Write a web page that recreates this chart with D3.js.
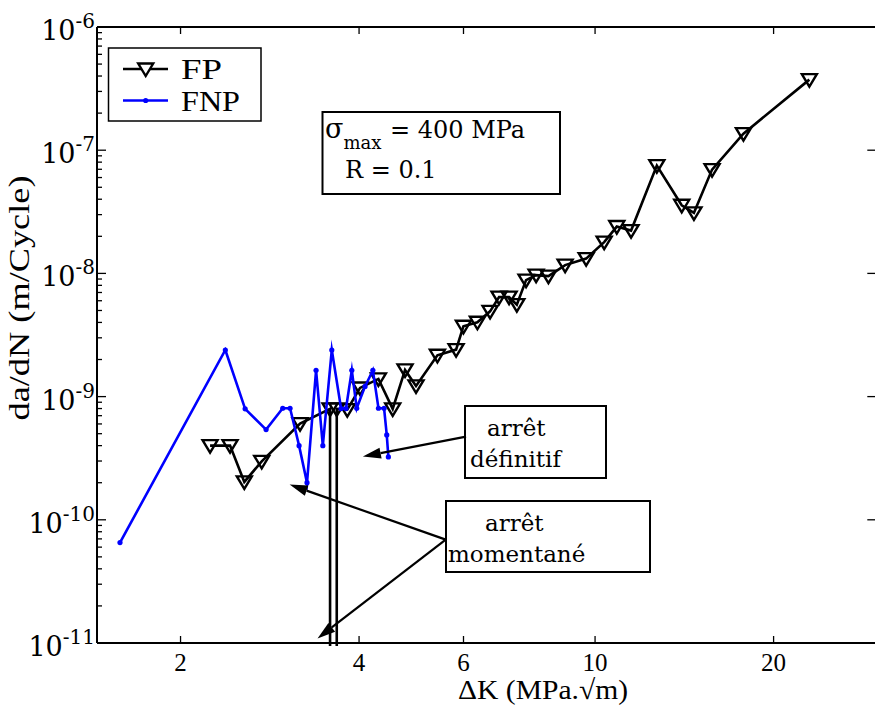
<!DOCTYPE html>
<html><head><meta charset="utf-8">
<script src="https://cdn.jsdelivr.net/npm/d3@7"></script>
<style>html,body{margin:0;padding:0;background:#fff;}svg{display:block;}</style>
</head><body>
<svg id="chart" width="875" height="711"></svg>
<script>
// ---- data ----
const fpDeltaK = [2.243, 2.424, 2.562, 2.741, 3.181, 3.574, 3.574, 3.668, 3.668, 3.821, 4.015, 4.312, 4.558, 4.782, 4.990, 5.422, 5.830, 5.998, 6.333, 6.652, 6.888, 7.162, 7.380, 7.650, 7.954, 8.344, 8.903, 9.660, 10.36, 10.88, 11.50, 12.71, 14.00, 14.68, 15.75, 17.79, 22.98];
const fpRate = [4.00e-10, 4.00e-10, 2.03e-10, 2.98e-10, 6.04e-10, 7.95e-10, 1e-12, 1e-12, 7.95e-10, 7.84e-10, 1.176e-9, 1.392e-9, 7.95e-10, 1.647e-9, 1.221e-9, 2.164e-9, 2.407e-9, 3.72e-9, 4.01e-9, 4.92e-9, 6.42e-9, 6.42e-9, 5.58e-9, 8.82e-9, 9.69e-9, 9.50e-9, 1.168e-8, 1.319e-8, 1.795e-8, 2.40e-8, 2.226e-8, 7.50e-8, 3.57e-8, 3.10e-8, 6.96e-8, 1.363e-7, 3.74e-7];
const fnpDeltaK = [1.581, 2.380, 2.570, 2.788, 2.974, 3.060, 3.169, 3.268, 3.385, 3.475, 3.598, 3.730, 3.802, 3.889, 3.964, 4.094, 4.220, 4.313, 4.408, 4.454, 4.482];
const fnpRate = [6.53e-11, 2.39e-9, 7.95e-10, 5.40e-10, 8.04e-10, 8.04e-10, 4.0e-10, 2.0e-10, 1.635e-9, 4.0e-10, 2.39e-9, 8.0e-10, 8.0e-10, 1.635e-9, 8.04e-10, 1.21e-9, 1.635e-9, 8.04e-10, 8.04e-10, 4.89e-10, 3.24e-10];
const xTickValues = [2, 4, 6, 10, 20];
const xTickLabels = ["2", "4", "6", "10", "20"];
const yDecadeExponents = [-11, -10, -9, -8, -7, -6];
const seriesNames = ["FP", "FNP"];
const xAxisTitle = "ΔK (MPa.√m)";
const yAxisTitle = "da/dN (m/Cycle)";
const conditionLines = ["= 400 MPa", "R = 0.1"];
const noteFinal = ["arrêt", "définitif"];
const noteTemp = ["arrêt", "momentané"];

// ---- layout ----
const L = 97, Rr = 876.3, T = 27, B = 643;
const svg = d3.select("#chart");
const x = d3.scaleLog().domain([1.446, 29.8]).range([L, Rr]);
const y = d3.scaleLog().domain([1e-11, 1e-6]).range([B, T]);
const SERIF = "'Liberation Serif', 'Times New Roman', serif";
const WIDE = "'DejaVu Serif', serif";

svg.append("defs").append("clipPath").attr("id", "plotclip")
  .append("rect").attr("x", L).attr("y", T).attr("width", Rr - L).attr("height", B - T + 3);

// frame
const frame = svg.append("g").attr("stroke", "#000").attr("stroke-width", 2).attr("fill", "none");
frame.append("line").attr("x1", L).attr("x2", L).attr("y1", T).attr("y2", B);
frame.append("line").attr("x1", L).attr("x2", Rr).attr("y1", T).attr("y2", T);
frame.append("line").attr("x1", L).attr("x2", Rr).attr("y1", B).attr("y2", B);
frame.append("line").attr("x1", Rr).attr("x2", Rr).attr("y1", T).attr("y2", B);

// x ticks (bottom + top, inward)
const xt = svg.append("g").attr("stroke", "#000").attr("stroke-width", 1.3);
xTickValues.forEach(v => {
  xt.append("line").attr("x1", x(v)).attr("x2", x(v)).attr("y1", B).attr("y2", B - 7);
  xt.append("line").attr("x1", x(v)).attr("x2", x(v)).attr("y1", T).attr("y2", T + 7);
});
svg.append("g").selectAll("text").data(xTickValues).join("text")
  .attr("x", d => x(d)).attr("y", 671)
  .attr("text-anchor", "middle").attr("font-family", SERIF).attr("font-size", 25)
  .text((d, i) => xTickLabels[i]);

// y ticks
const yt = svg.append("g").attr("stroke", "#000").attr("stroke-width", 1.3);
yDecadeExponents.forEach(e => {
  const v = Math.pow(10, e);
  yt.append("line").attr("x1", L).attr("x2", L + 9).attr("y1", y(v)).attr("y2", y(v));
  yt.append("line").attr("x1", Rr).attr("x2", Rr - 9).attr("y1", y(v)).attr("y2", y(v));
  if (e < -6) {
    for (let m = 2; m <= 9; m++) {
      const mv = m * v;
      yt.append("line").attr("x1", L).attr("x2", L + 5).attr("y1", y(mv)).attr("y2", y(mv));
    }
  }
});
const ylab = svg.append("g").selectAll("text").data(yDecadeExponents).join("text")
  .attr("x", 95).attr("y", d => y(Math.pow(10, d)) + 13)
  .attr("text-anchor", "end").attr("font-family", WIDE).attr("font-size", 27);
ylab.append("tspan").text("10");
ylab.append("tspan").attr("dy", -12).attr("font-size", 20).text(d => String(d));

// axis titles
svg.append("text").attr("x", 543).attr("y", 699).attr("text-anchor", "middle")
  .attr("font-family", SERIF).attr("font-size", 28)
  .attr("textLength", 170).attr("lengthAdjust", "spacingAndGlyphs").text(xAxisTitle);
svg.append("text").attr("transform", "translate(29,298) rotate(-90)").attr("text-anchor", "middle")
  .attr("font-family", SERIF).attr("font-size", 30)
  .attr("textLength", 245).attr("lengthAdjust", "spacingAndGlyphs").text(yAxisTitle);

// series
const plot = svg.append("g").attr("clip-path", "url(#plotclip)");
const fpData = fpDeltaK.map((k, i) => ({k, r: fpRate[i]}));
const fnpData = fnpDeltaK.map((k, i) => ({k, r: fnpRate[i]}));
const line = d3.line().x(d => x(d.k)).y(d => y(d.r));
const triPath = "M-7.5,-5.5L7.5,-5.5L0,7Z";

plot.append("path").datum(fpData).attr("d", line).attr("fill", "none")
  .attr("stroke", "#000").attr("stroke-width", 2.6).attr("stroke-linejoin", "miter").attr("stroke-miterlimit", 10);
plot.append("g").selectAll("path").data(fpData).join("path")
  .attr("transform", d => `translate(${x(d.k)},${y(d.r)})`).attr("d", triPath)
  .attr("fill", "none").attr("stroke", "#000").attr("stroke-width", 2.4);

plot.append("path").datum(fnpData).attr("d", line).attr("fill", "none")
  .attr("stroke", "#0000ff").attr("stroke-width", 2.6).attr("stroke-linejoin", "miter").attr("stroke-miterlimit", 10);
plot.append("g").selectAll("circle").data(fnpData).join("circle")
  .attr("cx", d => x(d.k)).attr("cy", d => y(d.r)).attr("r", 2.6).attr("fill", "#0000ff");

// legend
const lg = svg.append("g");
lg.append("rect").attr("x", 108.5).attr("y", 48).attr("width", 152.5).attr("height", 73)
  .attr("fill", "#fff").attr("stroke", "#000").attr("stroke-width", 1.5);
const legendWidths = [41, 59];
[0, 1].forEach(i => {
  const ly = 69 + i * 31.5;
  const col = i === 0 ? "#000" : "#0000ff";
  lg.append("line").attr("x1", 123).attr("x2", 168).attr("y1", ly).attr("y2", ly)
    .attr("stroke", col).attr("stroke-width", 2.6);
  if (i === 0) lg.append("path").attr("transform", `translate(145.7,${ly})`).attr("d", triPath)
    .attr("fill", "#fff").attr("stroke", "#000").attr("stroke-width", 2.4);
  else lg.append("circle").attr("cx", 145.7).attr("cy", ly).attr("r", 2.6).attr("fill", col);
  lg.append("text").attr("x", 181).attr("y", ly + 10).attr("font-family", SERIF)
    .attr("font-size", 29).attr("textLength", legendWidths[i]).attr("lengthAdjust", "spacingAndGlyphs")
    .text(seriesNames[i]);
});

// condition box
const cb = svg.append("g");
cb.append("rect").attr("x", 322.5).attr("y", 112).attr("width", 237.5).attr("height", 82)
  .attr("fill", "#fff").attr("stroke", "#000").attr("stroke-width", 2);
const t1 = cb.append("text").attr("x", 325).attr("y", 138).attr("font-family", WIDE).attr("font-size", 24);
t1.append("tspan").attr("font-size", 27).text("σ");
t1.append("tspan").attr("dy", 11).attr("font-size", 18).text("max");
t1.append("tspan").attr("x", 390).attr("dy", -11).text(conditionLines[0]);
cb.append("text").attr("x", 345).attr("y", 178).attr("font-family", WIDE).attr("font-size", 24).text(conditionLines[1]);

// annotation boxes
function noteBox(bx, by, bw, bh, lines, lx) {
  const g = svg.append("g");
  g.append("rect").attr("x", bx).attr("y", by).attr("width", bw).attr("height", bh)
    .attr("fill", "#fff").attr("stroke", "#000").attr("stroke-width", 2);
  lines.forEach((s, i) => g.append("text").attr("x", lx[i]).attr("y", by + 30 + i * 31)
    .attr("font-family", WIDE).attr("font-size", 23).text(s));
}
noteBox(465, 406, 141, 72, noteFinal, [487, 470]);
noteBox(446, 501, 204, 71, noteTemp, [485, 448]);

// arrows (in data coordinates)
function arrow(k1, r1, k2, r2) {
  const x1 = x(k1), y1 = y(r1), x2 = x(k2), y2 = y(r2);
  const a = Math.atan2(y2 - y1, x2 - x1), len = 18, hw = 5.5;
  const bx = x2 - len * Math.cos(a), by = y2 - len * Math.sin(a);
  svg.append("line").attr("x1", x1).attr("y1", y1).attr("x2", bx).attr("y2", by)
    .attr("stroke", "#000").attr("stroke-width", 2.2);
  const p = [[x2, y2], [bx + hw * Math.sin(a), by - hw * Math.cos(a)], [bx - hw * Math.sin(a), by + hw * Math.cos(a)]];
  svg.append("path").attr("d", "M" + p.map(q => q.join(",")).join("L") + "Z").attr("fill", "#000");
}
arrow(6.06, 4.73e-10, 4.06, 3.26e-10);
arrow(5.60, 6.9e-11, 3.055, 1.93e-10);
arrow(5.60, 6.9e-11, 3.404, 1.09e-11);
</script>
</body></html>
